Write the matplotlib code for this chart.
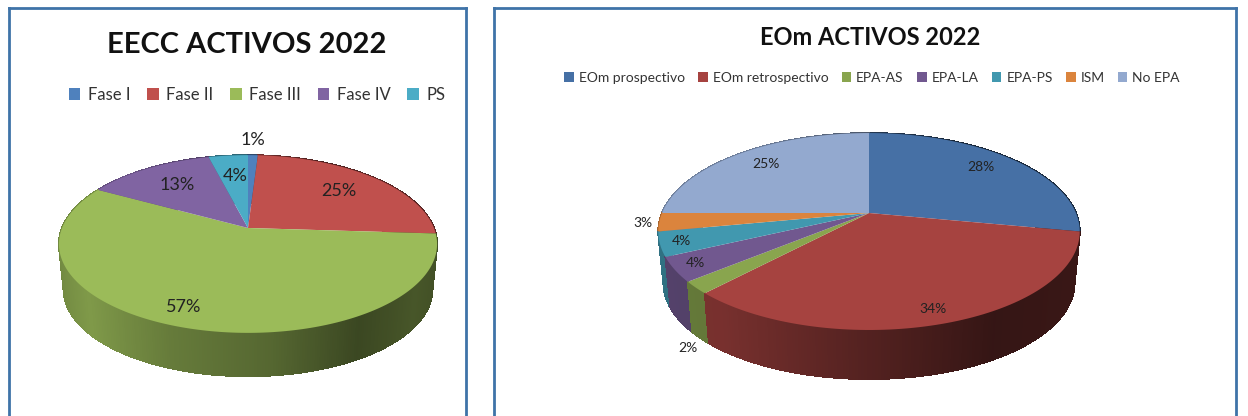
import numpy as np
import matplotlib
matplotlib.use("Agg")
import matplotlib.pyplot as plt
from matplotlib.path import Path
from matplotlib.transforms import Transform
from matplotlib.collections import PolyCollection
from matplotlib.colors import to_rgb

plt.rcParams['font.family'] = ['Lato', 'DejaVu Sans']

left_title = "EECC ACTIVOS 2022"
left_categories = ["Fase I", "Fase II", "Fase III", "Fase IV", "PS"]
left_values = [1, 25, 57, 13, 4]
left_colors = ["#4f81bd", "#c0504d", "#9bbb59", "#8064a2", "#4bacc6"]

right_title = "EOm ACTIVOS 2022"
right_categories = ["EOm prospectivo", "EOm retrospectivo", "EPA-AS", "EPA-LA", "EPA-PS", "ISM", "No EPA"]
right_values = [28, 34, 2, 4, 4, 3, 25]
right_colors = ["#4670a5", "#a64340", "#89a54e", "#71588f", "#4198af", "#db843d", "#93a9cf"]

W, H = 1248, 416
FRAME = "#3f73a8"


class Tilt(Transform):
    """Perspective view of the unit-circle pie, giving pixel coordinates."""
    input_dims = output_dims = 2
    is_affine = False
    has_inverse = False

    def __init__(self, cx, cy, A, B, k):
        super().__init__()
        self.p = (cx, cy, A, B, k)

    def transform_non_affine(self, xy):
        cx, cy, A, B, k = self.p
        xy = np.asarray(xy, float)
        w = 1 / (1 + k * xy[:, 1])
        return np.column_stack([cx + A * xy[:, 0] * w, cy - B * xy[:, 1] * w])

    def transform_path_non_affine(self, path):
        pts = []
        for seg, code in path.iter_bezier():
            n = 2 if code in (Path.LINETO, Path.CLOSEPOLY) else 1 if code == Path.MOVETO else 24
            pts.append(seg(np.linspace(0, 1, n)))
        return Path(self.transform_non_affine(np.vstack(pts)))


def panel(rect, title, title_xy, title_size, cats, vals, cols, geom, depth, shrink,
          shade_u, shade_f, label_xy, label_size, leg_xy, leg_size, leg_kw):
    x0, y0, x1, y1 = rect
    ax = plt.gcf().add_axes([x0 / W, 1 - y1 / H, (x1 - x0) / W, (y1 - y0) / H])
    wedges, _ = ax.pie(vals, colors=cols, startangle=90, counterclock=False, radius=1)
    ax.set_aspect('auto')
    ax.set_xlim(x0, x1)
    ax.set_ylim(y1, y0)
    ax.set_frame_on(True)
    for s in ('left', 'right', 'top'):
        ax.spines[s].set_color(FRAME)
        ax.spines[s].set_linewidth(2.0)
    ax.spines['bottom'].set_visible(False)

    cx, cy, A, B, k = geom
    top = Tilt(cx, cy, A, B, k)
    for w in wedges:
        w.set_transform(top + ax.transData)
        w.set_zorder(3)
        w.set_edgecolor('none')

    # side wall: strips between the rim of the top face and the lower rim,
    # painted from the far side of the pie to the near side
    bottom = Tilt(cx, cy + depth, A * shrink, B * shrink, k)
    edges = np.cumsum([0] + list(vals)) / sum(vals) * 2 * np.pi
    strips = []
    for a0, a1, c in zip(edges[:-1], edges[1:], cols):
        n = max(2, int((a1 - a0) / 0.012))
        t = np.linspace(a0, a1, n)
        uv = np.column_stack([np.sin(t), np.cos(t)])
        p, q = top.transform_non_affine(uv), bottom.transform_non_affine(uv)
        rgb = np.array(to_rgb(c))
        for i in range(n - 1):
            um = 0.5 * (uv[i, 0] + uv[i + 1, 0])
            vm = 0.5 * (uv[i, 1] + uv[i + 1, 1])
            strips.append((vm, [p[i], p[i + 1], q[i + 1], q[i]],
                           tuple(rgb * np.interp(um, shade_u, shade_f))))
    strips.sort(key=lambda s: -s[0])
    polys = [s[1] for s in strips]
    fc = [s[2] for s in strips]
    ax.add_collection(PolyCollection(polys, facecolors=fc, edgecolors=fc, linewidths=0.6,
                                     antialiaseds=False, zorder=2))

    ax.text(*title_xy, title, fontsize=title_size, fontweight='bold', ha='center', va='center',
            color='#111111', zorder=5)
    for (lx, ly), v in zip(label_xy, vals):
        ax.text(lx, ly, f"{v}%", fontsize=label_size, ha='center', va='center', color='#222222', zorder=5)

    ax.legend(wedges, cats, loc='center', bbox_to_anchor=leg_xy, bbox_transform=ax.transData,
              ncol=len(cats), frameon=False, fontsize=leg_size, labelcolor='#333333', **leg_kw)


fig = plt.figure(figsize=(W / 100, H / 100), dpi=100, facecolor='white')

panel((9, 8, 466, 425), left_title, (247, 45), 21, left_categories, left_values, left_colors,
      (248, 228, 186, 86, 0.18), 46, 0.975,
      [-1, -0.75, -0.35, 0.1, 0.5, 0.8, 1], [0.72, 0.82, 0.66, 0.55, 0.38, 0.46, 0.42],
      [(253, 140), (339, 191), (184, 307), (177, 185), (235, 176)], 13,
      (257, 95), 12,
      dict(handlelength=0.7, handleheight=0.7, handletextpad=0.45, columnspacing=1.0))

panel((494, 8, 1236, 425), right_title, (870, 37), 17, right_categories, right_values, right_colors,
      (869, 213, 207, 95, 0.188), 52, 0.975,
      [-1, -0.6, 0, 0.5, 1], [0.75, 0.72, 0.5, 0.32, 0.35],
      [(981, 167), (933, 309), (688, 348), (695, 263), (681, 241), (643, 223), (766, 164)], 10,
      (872, 78), 10,
      dict(handlelength=0.7, handleheight=0.7, handletextpad=0.35, columnspacing=0.95))

fig.savefig("out.png", dpi=100, facecolor='white')
